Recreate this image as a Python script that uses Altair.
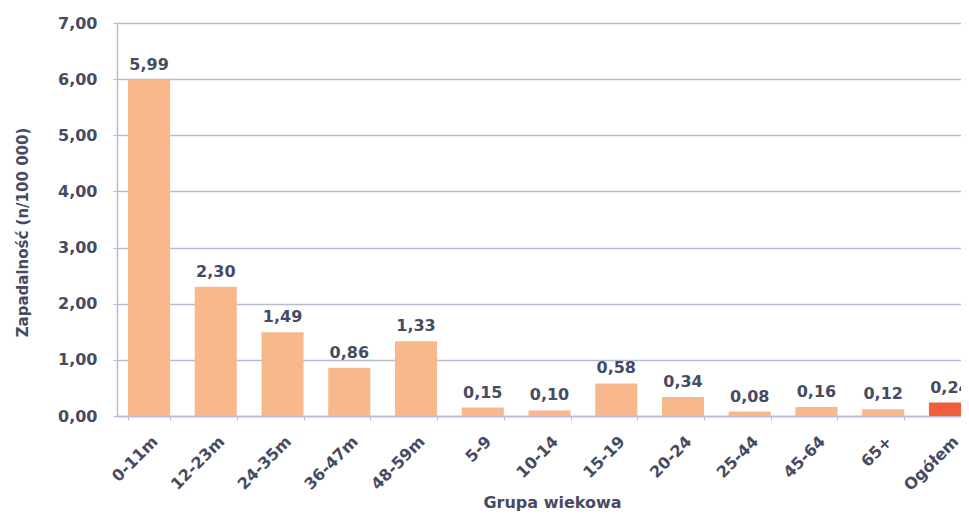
import altair as alt
import pandas as pd

categories = ["0-11m", "12-23m", "24-35m", "36-47m", "48-59m", "5-9", "10-14",
              "15-19", "20-24", "25-44", "45-64", "65+", "Ogółem"]
values = [5.99, 2.30, 1.49, 0.86, 1.33, 0.15, 0.10, 0.58, 0.34, 0.08, 0.16, 0.12, 0.24]
kinds = ["grupa"] * 12 + ["ogółem"]

df = pd.DataFrame({"grupa": categories, "wartosc": values, "rodzaj": kinds})

FONT = "DejaVu Sans"
TXT = "#464b62"
GRID = "#b9bad2"

x_enc = alt.X(
    "grupa:N",
    sort=categories,
    title="Grupa wiekowa",
    scale=alt.Scale(range=[0, 865], paddingInner=0.37, paddingOuter=0.165),
    axis=alt.Axis(
        labelAngle=315,
        labelAlign="right",
        labelBaseline="top",
        labelFont=FONT,
        labelFontSize=16,
        labelFontWeight="bold",
        labelColor=TXT,
        labelPadding=13,
        tickBand="extent",
        tickSize=4,
        tickColor=GRID,
        domainColor=GRID,
        domainWidth=1.5,
        titleFont=FONT,
        titleFontSize=16,
        titleFontWeight="bold",
        titleColor=TXT,
        titleY=78,
        titleX=435,
        titleBaseline="top",
        labelOverlap=False,
    ),
)

y_enc = alt.Y(
    "wartosc:Q",
    title="Zapadalność (n/100 000)",
    scale=alt.Scale(domain=[0, 7], nice=False),
    axis=alt.Axis(
        values=[0, 1, 2, 3, 4, 5, 6, 7],
        labelExpr="replace(format(datum.value, '.2f'), '.', ',')",
        labelFont=FONT,
        labelFontSize=16,
        labelFontWeight="bold",
        labelColor=TXT,
        labelPadding=16,
        tickSize=4,
        tickColor=GRID,
        domainColor=GRID,
        domainWidth=1.5,
        gridColor=GRID,
        gridWidth=1.5,
        titleFont=FONT,
        titleFontSize=15,
        titleFontWeight="bold",
        titleColor=TXT,
        titleAngle=270,
        titleX=-95,
        titleY=209,
        titleAlign="center",
        titleBaseline="middle",
    ),
)

base = alt.Chart(df).transform_calculate(
    etykieta="replace(format(datum.wartosc, '.2f'), '.', ',')"
)

bars = base.mark_bar(clip=True).encode(
    x=x_enc,
    y=y_enc,
    color=alt.Color(
        "rodzaj:N",
        scale=alt.Scale(domain=["grupa", "ogółem"], range=["#f9b78c", "#ef5f3c"]),
        legend=None,
    ),
)

labels = base.mark_text(
    clip=True, baseline="alphabetic", dy=-10, font=FONT, fontSize=16,
    fontWeight="bold", color=TXT,
).encode(
    x=alt.X("grupa:N", sort=categories),
    y=alt.Y("wartosc:Q"),
    text="etykieta:N",
)

chart = alt.layer(bars, labels).properties(
    width=844,
    height=393,
    autosize=alt.AutoSizeParams(type="none"),
    padding={"left": 109, "top": 15, "right": 0, "bottom": 99},
).configure_view(stroke=None).configure(background="white")

chart.save("out.html", embed_options={"renderer": "svg", "actions": False})
